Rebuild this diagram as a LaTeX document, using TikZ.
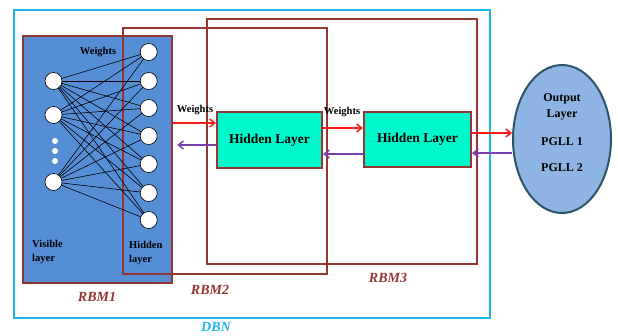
\documentclass[tikz,border=0pt]{standalone}
\usepackage{fontspec}
\setmainfont{Liberation Serif}
\usetikzlibrary{arrows.meta,shapes.geometric}
\definecolor{dbncyan}{HTML}{1CB4EC}
\definecolor{rbmbrown}{HTML}{943634}
\definecolor{rbmblue}{HTML}{558ED5}
\definecolor{hlfill}{HTML}{00F8CC}
\definecolor{outfill}{HTML}{8EB4E3}
\definecolor{outline}{HTML}{2C5468}
\definecolor{arrred}{HTML}{FF1A1A}
\definecolor{arrpurple}{HTML}{7A40B0}
\begin{document}
\begin{tikzpicture}[x=1pt,y=-1pt,
  rbmbox/.style={draw=rbmbrown, line width=2.5pt, inner sep=0pt},
  hlbox/.style={draw=rbmbrown, fill=hlfill, line width=2.2pt, inner sep=0pt,
    font=\fontsize{13.5}{16}\selectfont\bfseries},
  unit/.style={circle, draw=black, fill=white, line width=0.6pt, minimum size=17pt, inner sep=0pt},
  dotunit/.style={circle, fill=white, minimum size=6pt, inner sep=0pt},
  wlab/.style={font=\fontsize{10.5}{12}\selectfont\bfseries, inner sep=0pt},
  llab/.style={font=\fontsize{10.5}{13.5}\selectfont\bfseries, align=left, inner sep=0pt, anchor=west},
  rbmlab/.style={font=\fontsize{14}{16}\selectfont\bfseries\itshape, text=rbmbrown, inner sep=0pt},
  outtext/.style={font=\fontsize{12}{14}\selectfont\bfseries, inner sep=0pt},
  redarr/.style={draw=arrred, line width=1.5pt, -{Straight Barb[length=5pt,width=8pt]}},
  purarr/.style={draw=arrpurple, line width=1.5pt, -{Straight Barb[length=5pt,width=8pt]}},
  wire/.style={draw=black, line width=0.6pt}
]
\useasboundingbox (0,0) rectangle (618,335);
% DBN frame
\node[draw=dbncyan, line width=2pt, minimum width=476pt, minimum height=308pt, inner sep=0pt] (dbn) at (252,164) {};
% RBM boxes
\node[rbmbox, fill=rbmblue, minimum width=149pt, minimum height=247pt] (rbm1) at (97.5,159.5) {};
\node[rbmbox, minimum width=204pt, minimum height=246pt] (rbm2) at (225,151) {};
\node[rbmbox, minimum width=270pt, minimum height=245pt] (rbm3) at (342,141.5) {};
% visible units
\node[unit] (v1) at (53.5,81) {};
\node[unit] (v2) at (53.5,115) {};
\node[unit] (v3) at (53.5,182) {};
\node[dotunit] (d1) at (55,141) {};
\node[dotunit] (d2) at (55,151) {};
\node[dotunit] (d3) at (55,161) {};
% hidden units
\foreach \i/\y in {1/52,2/81,3/108,4/136,5/164,6/193,7/220}
  \node[unit] (h\i) at (148.7,\y) {};
\foreach \v in {v1,v2,v3}
  \foreach \h in {h1,h2,h3,h4,h5,h6,h7}
    \draw[wire] (\v) -- (\h);
% labels in RBM1
\node[wlab] (w1) at (98,52) {Weights};
\node[llab] (vis) at (32,252) {Visible\\layer};
\node[llab] (hid) at (129,253) {Hidden\\layer};
% hidden layer boxes
\node[hlbox, minimum width=105pt, minimum height=56pt] (hl1) at (269.5,140) {Hidden Layer};
\node[hlbox, minimum width=107pt, minimum height=55pt] (hl2) at (417.5,139.5) {Hidden Layer};
% output layer
\node[ellipse, draw=outline, fill=outfill, line width=2pt, minimum width=98pt, minimum height=148pt, inner sep=0pt] (out) at (562,139) {};
\node[outtext] (o1) at (562,99) {Output};
\node[outtext] (o2) at (562,115) {Layer};
\node[outtext] (o3) at (562,142) {PGLL 1};
\node[outtext] (o4) at (562,168) {PGLL 2};
% arrows
\draw[redarr] ([yshift=17pt]hl1.west -| rbm1.east) -- ([yshift=17pt]hl1.west);
\draw[purarr] ([yshift=-5pt]hl1.west) -- ([yshift=-5pt,xshift=4pt]hl1.west -| rbm1.east);
\draw[redarr] ([yshift=12pt]hl1.east) -- ([yshift=12pt]hl1.east -| hl2.west);
\draw[purarr] ([yshift=-14.5pt]hl2.west) -- ([yshift=-14.5pt]hl2.west -| hl1.east);
\draw[redarr] ([yshift=6.5pt]hl2.east) -- ([yshift=6.5pt]hl2.east -| out.west);
\draw[purarr] ([yshift=-13.5pt]hl2.east -| out.west) -- ([yshift=-13.5pt]hl2.east);
\node[wlab] (w2) at (195,110) {Weights};
\node[wlab] (w3) at (342,112) {Weights};
% group labels
\node[rbmlab] (l1) at (97,297) {RBM1};
\node[rbmlab] (l2) at (210,290) {RBM2};
\node[rbmlab] (l3) at (388,278) {RBM3};
\node[rbmlab, text=dbncyan] (l4) at (216,327) {DBN};
\end{tikzpicture}
\end{document}
